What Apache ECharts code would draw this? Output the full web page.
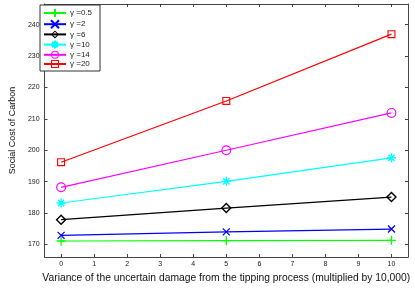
<!DOCTYPE html>
<html>
<head>
<meta charset="utf-8">
<script src="https://cdn.jsdelivr.net/npm/echarts@6/dist/echarts.min.js"></script>
<style>html,body{margin:0;padding:0;background:#fff;}#c{width:415px;height:291px;}</style>
</head>
<body>
<div id="c"></div>
<script>
const xValues = [0, 5, 10];
const seriesNames = ['γ =0.5', 'γ =2', 'γ =6', 'γ =10', 'γ =14', 'γ =20'];
const g05 = [171.1, 171.2, 171.3];
const g2 = [172.9, 174.0, 174.9];
const g6 = [177.9, 181.6, 185.1];
const g10 = [183.2, 190.1, 197.6];
const g14 = [188.2, 200.0, 211.9];
const g20 = [196.2, 215.7, 237.0];
const yTicks = [170, 180, 190, 200, 210, 220, 230, 240];
const xTicks = [0, 1, 2, 3, 4, 5, 6, 7, 8, 9, 10];

const allData = [g05, g2, g6, g10, g14, g20];
const colors = ['#00ff00', '#0000ff', '#000000', '#00ffff', '#ff00ff', '#ff0000'];
const symbols = [
  'path://M5,0L5,10M0,5L10,5',
  'path://M0,0L10,10M10,0L0,10',
  'path://M5,0L10,5L5,10L0,5Z M5,1.8L1.8,5L5,8.2L8.2,5Z',
  'path://M5,0L5,10M0,5L10,5M1.5,1.5L8.5,8.5M8.5,1.5L1.5,8.5',
  'path://M5,0A5,5 0 1,1 5,10A5,5 0 1,1 5,0Z M5,1.2A3.8,3.8 0 1,0 5,8.8A3.8,3.8 0 1,0 5,1.2Z',
  'path://M0,0L10,0L10,10L0,10Z M1.4,1.4L1.4,8.6L8.6,8.6L8.6,1.4Z'
];
const sizes = [9, 7, 11, 9, 10, 8];
const borders = [1.3, 1.3, 0, 1.4, 0, 0];

const chart = echarts.init(document.getElementById('c'), null, {renderer: 'canvas'});
const font = 'Liberation Sans, Arial, sans-serif';
const axisCol = '#444';

const series = allData.map((d, i) => ({
  name: seriesNames[i],
  type: 'line',
  data: xValues.map((x, j) => [x, d[j]]),
  symbol: symbols[i],
  symbolSize: sizes[i],
  showAllSymbol: true,
  lineStyle: {color: colors[i], width: 1.2},
  itemStyle: {color: colors[i], borderColor: colors[i], borderWidth: borders[i]},
  emphasis: {disabled: true},
  z: 3
}));

const baseX = {
  type: 'value', min: -0.5, max: 10.5,
  axisLine: {show: true, onZero: false, lineStyle: {color: axisCol, width: 1}},
  splitLine: {show: false}
};
const baseY = {
  type: 'value', min: 166, max: 246.6,
  axisLine: {show: true, onZero: false, lineStyle: {color: axisCol, width: 1}},
  splitLine: {show: false}
};

chart.setOption({
  animation: false,
  backgroundColor: '#fff',
  grid: {left: 36, right: 7, top: 4, bottom: 34, containLabel: false},
  legend: {
    orient: 'vertical', left: 40, top: 5,
    data: seriesNames,
    backgroundColor: '#fff', borderColor: '#333', borderWidth: 1,
    padding: [3, 8, 3, 3],
    itemWidth: 22, itemHeight: 10, itemGap: 1.2,
    textStyle: {fontFamily: font, fontSize: 8, color: '#222', padding: [0, 0, 0, -1]}
  },
  xAxis: [
    Object.assign({}, baseX, {
      position: 'bottom',
      name: 'Variance of the uncertain damage from the tipping process (multiplied by 10,000)',
      nameLocation: 'middle', nameGap: 16,
      nameTextStyle: {fontFamily: font, fontSize: 10.3, color: '#111'},
      axisTick: {show: true, inside: true, length: 3, customValues: xTicks, lineStyle: {color: axisCol}},
      axisLabel: {show: true, margin: 4, customValues: xTicks, fontFamily: font, fontSize: 7, color: '#222'}
    }),
    Object.assign({}, baseX, {
      position: 'top',
      axisTick: {show: true, inside: true, length: 3, customValues: xTicks, lineStyle: {color: axisCol}},
      axisLabel: {show: false}
    })
  ],
  yAxis: [
    Object.assign({}, baseY, {
      position: 'left',
      name: 'Social Cost of Carbon',
      nameLocation: 'middle', nameGap: 26,
      nameTextStyle: {fontFamily: font, fontSize: 9, color: '#111'},
      axisTick: {show: true, inside: true, length: 3, customValues: yTicks, lineStyle: {color: axisCol}},
      axisLabel: {show: true, margin: 5, customValues: yTicks, fontFamily: font, fontSize: 7, color: '#222'}
    }),
    Object.assign({}, baseY, {
      position: 'right',
      axisTick: {show: true, inside: true, length: 3, customValues: yTicks, lineStyle: {color: axisCol}},
      axisLabel: {show: false}
    })
  ],
  series: series
});
</script>
</body>
</html>
